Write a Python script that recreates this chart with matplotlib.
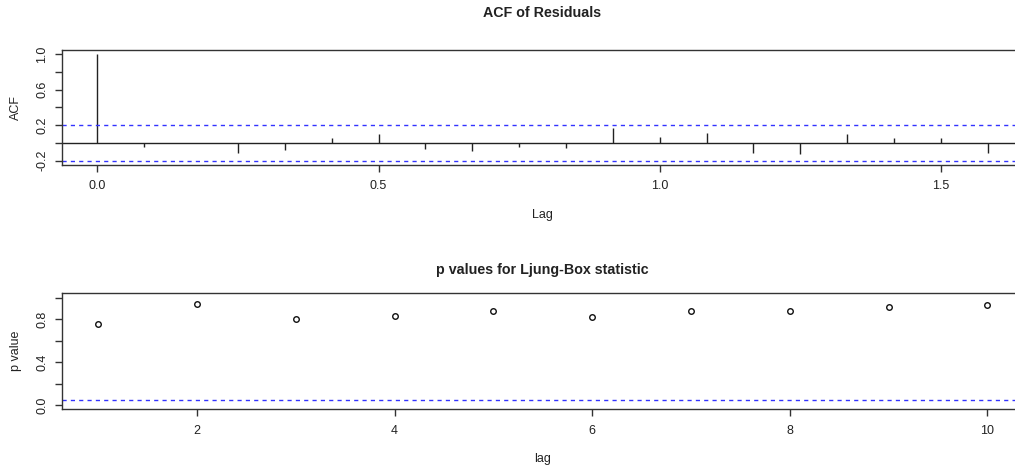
import numpy as np
import matplotlib
matplotlib.use('Agg')
from matplotlib import pyplot as plt

plt.rcParams['font.family'] = ['Liberation Sans', 'DejaVu Sans']

# residual ACF, monthly series (frequency 12)
acf_lag_index = np.arange(0, 20)
acf_values = [1.0, -0.04, 0.005, -0.108, -0.082, 0.052, 0.10, -0.07, -0.093, -0.045,
              -0.06, 0.164, 0.067, 0.112, -0.112, -0.123, 0.10, 0.056, 0.056, -0.108]
acf_ci = 0.2

# Ljung-Box p values
lb_lags = np.arange(1, 11)
lb_pvalues = [0.750, 0.943, 0.800, 0.831, 0.871, 0.822, 0.871, 0.871, 0.915, 0.933]
lb_level = 0.05

acf_lags = acf_lag_index / 12.0


def r_style(ax):
    for s in ax.spines.values():
        s.set_linewidth(1.0)
        s.set_color('#333333')
    ax.tick_params(direction='out', length=5, width=1.0, colors='#333333',
                   labelsize=9, labelcolor='#222222')
    ax.tick_params(axis='x', pad=6)
    ax.tick_params(axis='y', pad=5)
    for lab in ax.get_yticklabels():
        lab.set_rotation(90)
        lab.set_va('center')


fig = plt.figure(figsize=(10.15, 4.68), dpi=100)

# ACF panel
ax1 = fig.add_axes([0.0611, 0.6474, 0.9468, 0.2458])
ax1.vlines(acf_lags, 0, acf_values, color='#222222', lw=1.0)
ax1.axhline(0, color='#222222', lw=1.0)
ax1.axhline(acf_ci, color='#3333ff', lw=1.0, ls=(0, (3, 3)))
ax1.axhline(-acf_ci, color='#3333ff', lw=1.0, ls=(0, (3, 3)))
ax1.set_xlim(-0.063, 1.646)
ax1.set_ylim(-0.248, 1.048)
ax1.set_xticks([0.0, 0.5, 1.0, 1.5])
ax1.set_xticklabels(['0.0', '0.5', '1.0', '1.5'])
ax1.set_yticks([-0.2, 0.0, 0.2, 0.4, 0.6, 0.8, 1.0])
ax1.set_yticklabels(['-0.2', '', '0.2', '', '0.6', '', '1.0'])
r_style(ax1)
ax1.set_xlabel('Lag', fontsize=9, labelpad=12, color='#222222')
ax1.set_ylabel('ACF', fontsize=9, labelpad=10, color='#222222')
ax1.set_title('ACF of Residuals', fontsize=10.3, fontweight='bold', pad=24, color='#222222')

# Ljung-Box panel
ax2 = fig.add_axes([0.0611, 0.1254, 0.9468, 0.2479])
ax2.plot(lb_lags, lb_pvalues, 'o', mfc='none', mec='#111111', ms=4.0, mew=1.0)
ax2.axhline(lb_level, color='#3333ff', lw=1.0, ls=(0, (3, 3)))
ax2.set_xlim(0.635, 10.36)
ax2.set_ylim(-0.04, 1.04)
ax2.set_xticks([2, 4, 6, 8, 10])
ax2.set_yticks([0.0, 0.2, 0.4, 0.6, 0.8, 1.0])
ax2.set_yticklabels(['0.0', '', '0.4', '', '0.8', ''])
r_style(ax2)
ax2.set_xlabel('lag', fontsize=9, labelpad=12, color='#222222')
ax2.set_ylabel('p value', fontsize=9, labelpad=10, color='#222222')
ax2.set_title('p values for Ljung-Box statistic', fontsize=10.3, fontweight='bold',
              pad=14, color='#222222')

fig.savefig('out.png', dpi=100)
